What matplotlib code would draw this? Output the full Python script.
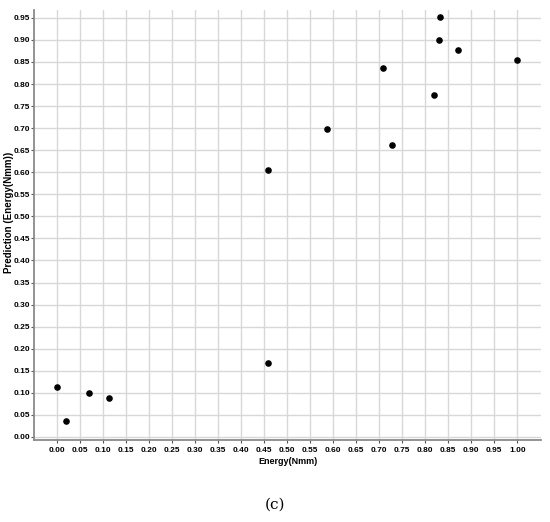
import numpy as np
import matplotlib
matplotlib.use("Agg")
import matplotlib.pyplot as plt

energy = [0.000, 0.020, 0.070, 0.113, 0.459, 0.459, 0.587, 0.709, 0.728,
          0.820, 0.831, 0.830, 0.872, 1.000]
prediction = [0.114, 0.037, 0.100, 0.088, 0.168, 0.604, 0.699, 0.836, 0.661,
              0.775, 0.953, 0.900, 0.877, 0.855]

xticks = np.round(np.arange(0, 1.0001, 0.05), 2)
yticks = np.round(np.arange(0, 0.9501, 0.05), 2)

plt.rcParams['font.family'] = ['Liberation Sans Narrow', 'Liberation Sans', 'DejaVu Sans']

fig = plt.figure(figsize=(5.5, 5.22), dpi=100)
ax = fig.add_axes([0.062, 0.157, 0.922, 0.824])

ax.scatter(energy, prediction, s=14, color='black', zorder=3)

ax.set_xlim(-0.05, 1.052)
ax.set_ylim(-0.007, 0.968)
ax.set_xticks(xticks)
ax.set_yticks(yticks)
ax.set_xticklabels(["%.2f" % v for v in xticks], fontsize=6, fontweight='bold')
ax.set_yticklabels(["%.2f" % v for v in yticks], fontsize=6, fontweight='bold')
ax.grid(True, color='#d8d8d8', linewidth=1.0)
ax.set_axisbelow(True)

for s in ['top', 'right']:
    ax.spines[s].set_visible(False)
for s in ['left', 'bottom']:
    ax.spines[s].set_color('#8a8a8a')
    ax.spines[s].set_linewidth(1.3)
ax.tick_params(axis='x', length=2, width=0.8, color='#555555', pad=3)
ax.tick_params(axis='y', length=2, width=0.8, color='#555555', pad=1)

ax.set_xlabel("Energy(Nmm)", fontsize=6.5, fontweight='bold', labelpad=2)
ax.set_ylabel("Prediction (Energy(Nmm))", fontsize=7, fontweight='bold')
ax.yaxis.set_label_coords(-0.039, 0.53)

fig.text(0.5, 0.033, "(c)", fontsize=11, family='DejaVu Serif', ha='center', va='center')

fig.savefig("out.png", dpi=100)
